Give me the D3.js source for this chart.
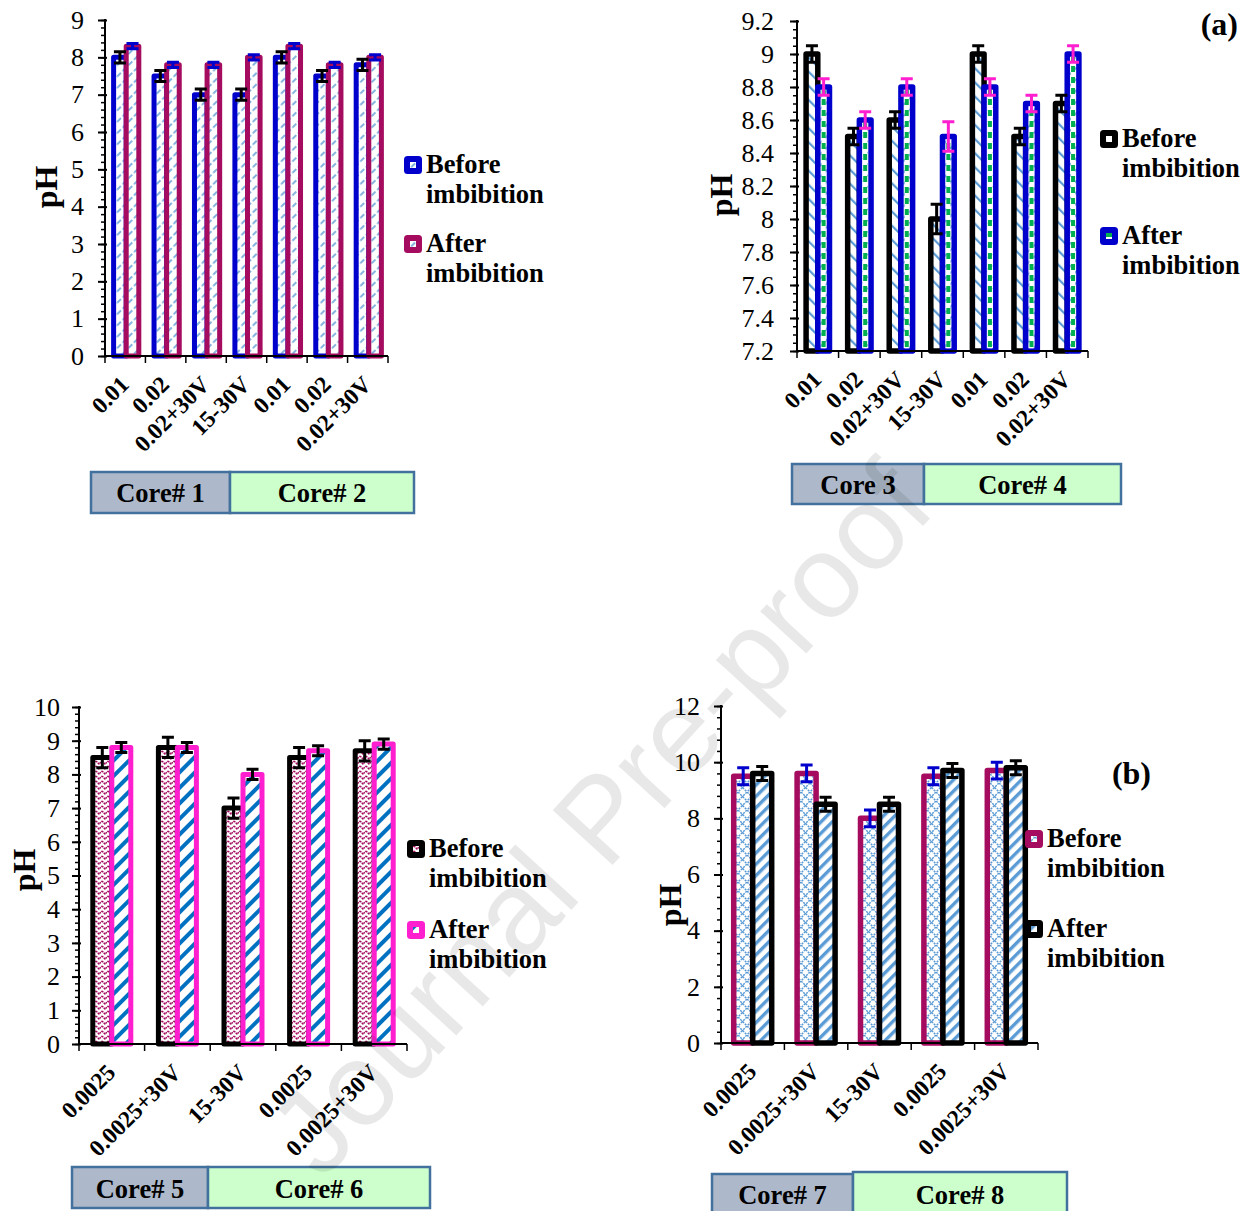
<!DOCTYPE html>
<html><head><meta charset="utf-8">
<script src="https://cdn.jsdelivr.net/npm/d3@7"></script>
<style>
html,body{margin:0;padding:0;background:#fff;}
svg{display:block;font-family:"Liberation Serif","Times New Roman",serif;}
</style></head><body>
<svg id="fig" width="1250" height="1211"></svg>
<script>
// ---------- data ----------
const seriesNames = ["Before imbibition", "After imbibition"];

const core12Labels = ["0.01", "0.02", "0.02+30V", "15-30V", "0.01", "0.02", "0.02+30V"];
const core12Before = [8.0, 7.5, 7.0, 7.0, 8.0, 7.5, 7.8];
const core12After = [8.3, 7.8, 7.8, 8.0, 8.3, 7.8, 8.0];
const core12BeforeErr = [0.15, 0.15, 0.15, 0.15, 0.15, 0.15, 0.15];
const core12AfterErr = [0.07, 0.07, 0.07, 0.07, 0.07, 0.07, 0.07];
const core12Ticks = [0, 1, 2, 3, 4, 5, 6, 7, 8, 9];
const core12Cores = ["Core# 1", "Core# 2"];

const core34Labels = ["0.01", "0.02", "0.02+30V", "15-30V", "0.01", "0.02", "0.02+30V"];
const core34Before = [9.0, 8.5, 8.6, 8.0, 9.0, 8.5, 8.7];
const core34After = [8.8, 8.6, 8.8, 8.5, 8.8, 8.7, 9.0];
const core34BeforeErr = [0.05, 0.05, 0.05, 0.09, 0.05, 0.05, 0.05];
const core34AfterErr = [0.05, 0.05, 0.05, 0.09, 0.05, 0.05, 0.05];
const core34Ticks = [7.2, 7.4, 7.6, 7.8, 8, 8.2, 8.4, 8.6, 8.8, 9, 9.2];
const core34Cores = ["Core 3", "Core# 4"];

const core56Labels = ["0.0025", "0.0025+30V", "15-30V", "0.0025", "0.0025+30V"];
const core56Before = [8.5, 8.8, 7.0, 8.5, 8.7];
const core56After = [8.8, 8.8, 8.0, 8.7, 8.9];
const core56BeforeErr = [0.3, 0.3, 0.3, 0.3, 0.3];
const core56AfterErr = [0.15, 0.15, 0.15, 0.15, 0.15];
const core56Ticks = [0, 1, 2, 3, 4, 5, 6, 7, 8, 9, 10];
const core56Cores = ["Core# 5", "Core# 6"];

const core78Labels = ["0.0025", "0.0025+30V", "15-30V", "0.0025", "0.0025+30V"];
const core78Before = [9.5, 9.6, 8.0, 9.5, 9.7];
const core78After = [9.6, 8.5, 8.5, 9.7, 9.8];
const core78BeforeErr = [0.3, 0.3, 0.3, 0.3, 0.3];
const core78AfterErr = [0.25, 0.25, 0.25, 0.25, 0.25];
const core78Ticks = [0, 2, 4, 6, 8, 10, 12];
const core78Cores = ["Core# 7", "Core# 8"];

// ---------- colours ----------
const BLUE = "#0000CC", MAROON = "#A50B5E", MAGENTA = "#FF1FCF", BLACK = "#000000";
const LIGHTBLUE = "#5B9BD5", STEEL = "#0070C0", GREEN = "#00B050";

const svg = d3.select("#fig");
const defs = svg.append("defs");

// fill patterns
function stripePattern(id, color, period, thick, angle) {
  const p = defs.append("pattern").attr("id", id).attr("patternUnits", "userSpaceOnUse")
    .attr("width", period).attr("height", period).attr("patternTransform", `rotate(${angle})`);
  p.append("rect").attr("width", period).attr("height", period).attr("fill", "#fff");
  p.append("rect").attr("width", thick).attr("height", period).attr("fill", color);
}
function dashedDiag(id, color, period) {
  const p = defs.append("pattern").attr("id", id).attr("patternUnits", "userSpaceOnUse")
    .attr("width", period).attr("height", period).attr("patternTransform", "rotate(45)");
  p.append("rect").attr("width", period).attr("height", period).attr("fill", "#fff");
  p.append("line").attr("x1", 1).attr("x2", 1).attr("y1", 0).attr("y2", period)
    .attr("stroke", color).attr("stroke-width", 1.5).attr("stroke-dasharray", "3.5,2.5");
}
dashedDiag("pDash", LIGHTBLUE, 8);
stripePattern("pBack", LIGHTBLUE, 10, 2.2, -45);
stripePattern("pFwdDark", STEEL, 11, 4, 45);
stripePattern("pFwdLight", LIGHTBLUE, 8, 3.4, 45);
{
  const p = defs.append("pattern").attr("id", "pZig").attr("patternUnits", "userSpaceOnUse")
    .attr("width", 6).attr("height", 5);
  p.append("rect").attr("width", 6).attr("height", 5).attr("fill", "#fff");
  p.append("path").attr("d", "M0,1 L3,4 L6,1").attr("fill", "none")
    .attr("stroke", MAROON).attr("stroke-width", 1.5).attr("stroke-dasharray", "1.8,0.7");
}
{
  const p = defs.append("pattern").attr("id", "pLattice").attr("patternUnits", "userSpaceOnUse")
    .attr("width", 9).attr("height", 9);
  p.append("rect").attr("width", 9).attr("height", 9).attr("fill", "#fff");
  p.append("path").attr("d", "M0,0 L9,9 M9,0 L0,9").attr("fill", "none")
    .attr("stroke", LIGHTBLUE).attr("stroke-width", 1.5).attr("stroke-dasharray", "2.2,1");
}
{
  const p = defs.append("pattern").attr("id", "pGreenDash").attr("patternUnits", "userSpaceOnUse")
    .attr("width", 4).attr("height", 11);
  p.append("rect").attr("width", 4).attr("height", 11).attr("fill", "#fff");
  p.append("rect").attr("width", 4).attr("height", 6).attr("fill", GREEN);
}

// ---------- panel drawing ----------
function drawPanel(cfg) {
  const g = svg.append("g");
  const n = cfg.labels.length;
  const x = d3.scaleBand().domain(d3.range(n)).range([cfg.x0, cfg.x1]).padding(0);
  const y = d3.scaleLinear().domain(cfg.domain).range([cfg.yBot, cfg.yTop]);
  const base = cfg.domain[0];
  const cx = i => x(i) + x.bandwidth() / 2 + (cfg.shift || 0);

  const series = [
    { vals: cfg.before, err: cfg.beforeErr, st: cfg.beforeStyle, off: -1 },
    { vals: cfg.after, err: cfg.afterErr, st: cfg.afterStyle, off: 0 }
  ];

  // bars
  series.forEach(s => {
    g.append("g").selectAll("rect").data(s.vals).join("rect")
      .attr("x", (d, i) => cx(i) + s.off * cfg.barW)
      .attr("y", d => y(d))
      .attr("width", cfg.barW)
      .attr("height", d => y(base) - y(d))
      .attr("fill", `url(#${s.st.pattern})`)
      .attr("stroke", s.st.stroke)
      .attr("stroke-width", cfg.sw)
      .attr("stroke-linejoin", "round");
    if (s.st.centreDash) {
      g.append("g").selectAll("rect").data(s.vals).join("rect")
        .attr("x", (d, i) => cx(i) + s.off * cfg.barW + cfg.barW / 2 - 2)
        .attr("y", d => y(d) + cfg.sw / 2)
        .attr("width", 4)
        .attr("height", d => Math.max(0, y(base) - y(d) - cfg.sw))
        .attr("fill", `url(#${s.st.centreDash})`);
    }
  });

  // error bars
  series.forEach(s => {
    const eg = g.append("g").attr("stroke", s.st.err).attr("stroke-width", 3).attr("fill", "none");
    const xc = i => cx(i) + s.off * cfg.barW + cfg.barW / 2;
    eg.selectAll("path").data(s.vals).join("path")
      .attr("d", (d, i) => {
        const a = y(d + s.err[i]), b = y(d - s.err[i]), c = xc(i);
        return `M${c},${a}V${b}M${c - 6},${a}H${c + 6}M${c - 6},${b}H${c + 6}`;
      });
  });

  // y axis: minor ticks, major ticks and labels
  const minors = d3.range(cfg.domain[0], cfg.domain[1] + 1e-9, cfg.minor);
  g.append("g").attr("transform", `translate(${cfg.x0},0)`)
    .call(d3.axisLeft(y).tickValues(minors).tickSize(4).tickFormat(""))
    .call(a => a.select(".domain").remove())
    .call(a => a.selectAll("line").attr("stroke-width", 1.5));
  g.append("g").attr("transform", `translate(${cfg.x0},0)`)
    .call(d3.axisLeft(y).tickValues(cfg.ticks).tickSize(7).tickPadding(cfg.pad).tickFormat(d3.format("~g")))
    .call(a => a.select(".domain").remove())
    .call(a => a.selectAll("line").attr("x2", -7).attr("x1", 2).attr("stroke-width", 2))
    .call(a => a.selectAll("text").attr("font-size", 26).attr("fill", "#000")
      .attr("font-family", "Liberation Serif, serif"));
  g.append("line").attr("x1", cfg.x0).attr("x2", cfg.x0).attr("y1", cfg.yTop - 1).attr("y2", cfg.yBot + 1)
    .attr("stroke", "#000").attr("stroke-width", 2);

  // x axis
  const xb = d3.range(n).map(i => x(i)).concat([cfg.x1]);
  g.append("line").attr("x1", cfg.x0).attr("x2", cfg.x1).attr("y1", cfg.yBot).attr("y2", cfg.yBot)
    .attr("stroke", "#000").attr("stroke-width", 2);
  g.append("g").selectAll("line").data(xb).join("line")
    .attr("x1", d => d).attr("x2", d => d).attr("y1", cfg.yBot).attr("y2", cfg.yBot + 7)
    .attr("stroke", "#000").attr("stroke-width", 1.5);
  g.append("g").selectAll("text").data(cfg.labels).join("text")
    .attr("transform", (d, i) => `translate(${x(i) + x.bandwidth() / 2 + 5},${cfg.yBot + 30}) rotate(-45)`)
    .attr("text-anchor", "end").attr("font-size", 23.5).attr("font-weight", "bold")
    .text(d => d);

  // y title
  g.append("text").attr("transform", `translate(${cfg.yTitle[0]},${cfg.yTitle[1]}) rotate(-90)`)
    .attr("text-anchor", "middle").attr("dominant-baseline", "central")
    .attr("font-size", 32).attr("font-weight", "bold").text("pH");

  // legend
  [cfg.beforeStyle, cfg.afterStyle].forEach((st, k) => {
    const top = cfg.legend.tops[k];
    const lx = cfg.legend.x;
    g.append("rect").attr("x", lx).attr("y", top).attr("width", 18).attr("height", 18).attr("rx", 3.5)
      .attr("fill", st.stroke);
    g.append("rect").attr("x", lx + 6).attr("y", top + 6).attr("width", 6).attr("height", 6)
      .attr("fill", `url(#${st.centreDash || st.pattern})`);
    const words = seriesNames[k].split(" ");
    words.forEach((w, j) => {
      g.append("text").attr("x", lx + 22).attr("y", top + 17 + j * 30)
        .attr("font-size", 26.5).attr("font-weight", "bold").text(w);
    });
  });

  // core boxes
  cfg.coreBoxes.forEach((b, k) => {
    g.append("rect").attr("x", b[0]).attr("y", b[2]).attr("width", b[1] - b[0]).attr("height", b[3] - b[2])
      .attr("fill", k === 0 ? "#ADB9CA" : "#CCFFCC").attr("stroke", "#41719C").attr("stroke-width", 2.5);
    g.append("text").attr("x", (b[0] + b[1]) / 2).attr("y", b[4])
      .attr("text-anchor", "middle").attr("font-size", 26.5).attr("font-weight", "bold")
      .text(cfg.cores[k]);
  });

  if (cfg.tag) {
    g.append("text").attr("x", cfg.tag[1]).attr("y", cfg.tag[2]).attr("text-anchor", "end")
      .attr("font-size", 32).attr("font-weight", "bold").text(cfg.tag[0]);
  }
}

drawPanel({
  labels: core12Labels, before: core12Before, after: core12After,
  beforeErr: core12BeforeErr, afterErr: core12AfterErr, ticks: core12Ticks, cores: core12Cores,
  x0: 105, x1: 388, yTop: 20, yBot: 356, domain: [0, 9], minor: 0.2, pad: 14,
  barW: 12.6, sw: 5, shift: 1,
  beforeStyle: { stroke: BLUE, pattern: "pDash", err: BLACK },
  afterStyle: { stroke: MAROON, pattern: "pDash", err: BLUE },
  yTitle: [46, 187], legend: { x: 404, tops: [156, 235] },
  coreBoxes: [[91, 230, 472, 513, 502], [230, 414, 472, 513, 502]]
});

drawPanel({
  labels: core34Labels, before: core34Before, after: core34After,
  beforeErr: core34BeforeErr, afterErr: core34AfterErr, ticks: core34Ticks, cores: core34Cores,
  x0: 797, x1: 1088, yTop: 21, yBot: 351, domain: [7.2, 9.2], minor: 0.05, pad: 16,
  barW: 11.7, sw: 5.5, shift: 0,
  beforeStyle: { stroke: BLACK, pattern: "pBack", err: BLACK },
  afterStyle: { stroke: BLUE, pattern: "pDash", err: MAGENTA, centreDash: "pGreenDash" },
  yTitle: [721, 195], legend: { x: 1100, tops: [130, 227] },
  coreBoxes: [[792, 924, 464, 504, 494], [924, 1121, 464, 504, 494]],
  tag: ["(a)", 1238, 35]
});

drawPanel({
  labels: core56Labels, before: core56Before, after: core56After,
  beforeErr: core56BeforeErr, afterErr: core56AfterErr, ticks: core56Ticks, cores: core56Cores,
  x0: 79, x1: 407, yTop: 707, yBot: 1044, domain: [0, 10], minor: 0.2, pad: 12,
  barW: 19, sw: 5, shift: 0,
  beforeStyle: { stroke: BLACK, pattern: "pZig", err: BLACK },
  afterStyle: { stroke: MAGENTA, pattern: "pFwdDark", err: BLACK },
  yTitle: [24, 870], legend: { x: 407, tops: [840, 921] },
  coreBoxes: [[72, 208, 1167, 1208, 1198], [208, 430, 1167, 1208, 1198]]
});

drawPanel({
  labels: core78Labels, before: core78Before, after: core78After,
  beforeErr: core78BeforeErr, afterErr: core78AfterErr, ticks: core78Ticks, cores: core78Cores,
  x0: 721, x1: 1038, yTop: 706, yBot: 1043, domain: [0, 12], minor: 0.4, pad: 14,
  barW: 19, sw: 5.5, shift: 0,
  beforeStyle: { stroke: MAROON, pattern: "pLattice", err: BLUE },
  afterStyle: { stroke: BLACK, pattern: "pFwdLight", err: BLACK },
  yTitle: [670, 905], legend: { x: 1025, tops: [830, 920] },
  coreBoxes: [[712, 853, 1174, 1218, 1204], [853, 1067, 1172, 1218, 1204]],
  tag: ["(b)", 1151, 784]
});

// watermark
svg.append("text")
  .attr("transform", "translate(600,818) rotate(-47.5)")
  .attr("text-anchor", "middle").attr("dominant-baseline", "central")
  .attr("font-family", "Liberation Sans, Arial, sans-serif").attr("font-size", 118)
  .attr("fill", "#000").attr("fill-opacity", 0.09)
  .text("Journal Pre-proof");
</script>
</body></html>
